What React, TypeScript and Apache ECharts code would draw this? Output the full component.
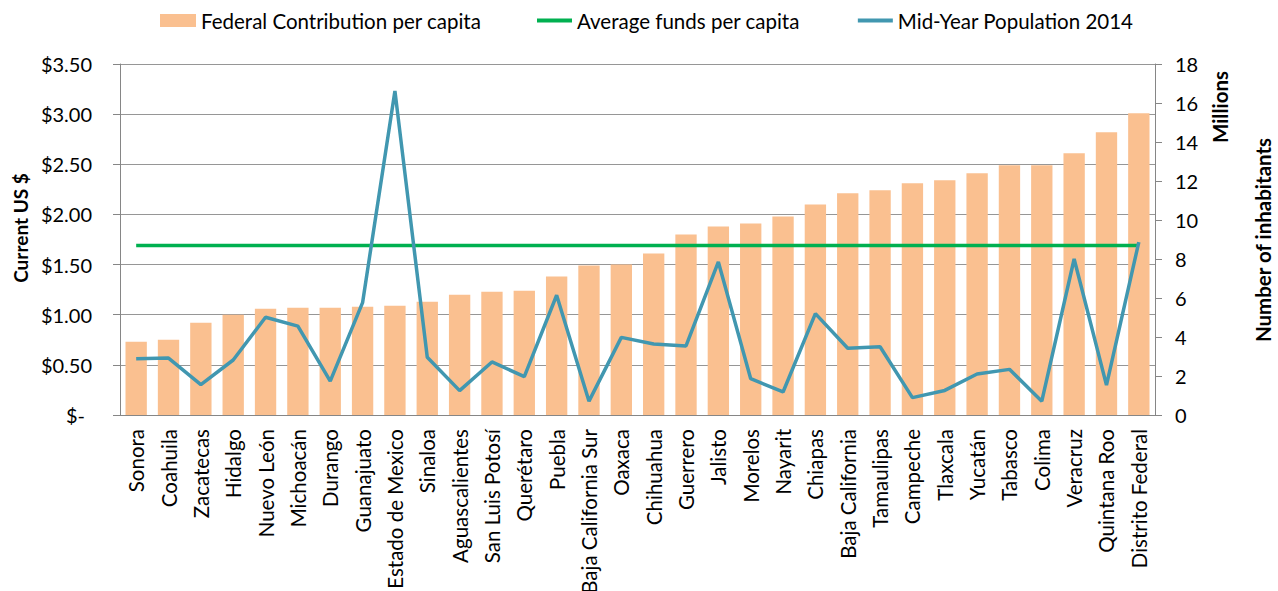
import React, { useEffect, useRef } from "react";
import * as echarts from "echarts";

const categories = [
  "Sonora", "Coahuila", "Zacatecas", "Hidalgo", "Nuevo León", "Michoacán", "Durango",
  "Guanajuato", "Estado de Mexico", "Sinaloa", "Aguascalientes", "San Luis Potosí",
  "Querétaro", "Puebla", "Baja California Sur", "Oaxaca", "Chihuahua", "Guerrero",
  "Jalisto", "Morelos", "Nayarit", "Chiapas", "Baja California", "Tamaulipas",
  "Campeche", "Tlaxcala", "Yucatán", "Tabasco", "Colima", "Veracruz", "Quintana Roo",
  "Distrito Federal",
];

const federalContribution = [
  0.73, 0.75, 0.92, 1.0, 1.06, 1.07, 1.07, 1.08, 1.09, 1.13, 1.2, 1.23, 1.24, 1.38,
  1.49, 1.5, 1.61, 1.8, 1.88, 1.91, 1.98, 2.1, 2.21, 2.24, 2.31, 2.34, 2.41, 2.49,
  2.49, 2.61, 2.82, 3.01,
];

const averageFunds = [
  1.69, 1.69, 1.69, 1.69, 1.69, 1.69, 1.69, 1.69, 1.69, 1.69, 1.69, 1.69, 1.69, 1.69,
  1.69, 1.69, 1.69, 1.69, 1.69, 1.69, 1.69, 1.69, 1.69, 1.69, 1.69, 1.69, 1.69, 1.69,
  1.69, 1.69, 1.69, 1.69,
];

const population2014 = [
  2.89, 2.92, 1.56, 2.82, 5.01, 4.56, 1.74, 5.76, 16.62, 2.96, 1.25, 2.72, 1.97, 6.14,
  0.71, 3.98, 3.64, 3.54, 7.85, 1.86, 1.18, 5.2, 3.42, 3.5, 0.89, 1.26, 2.1, 2.34,
  0.71, 8.0, 1.53, 8.87,
];

const FONT = "Lato, 'Open Sans', sans-serif";

export default function App() {
  const ref = useRef<HTMLDivElement>(null);

  useEffect(() => {
    document.body.style.margin = "0";
    const chart = echarts.init(ref.current!, undefined, { renderer: "svg" });
    const legendText = { fontFamily: FONT, fontSize: 20.5, color: "#000" };
    chart.setOption({
      animation: false,
      textStyle: { fontFamily: FONT },
      legend: [
        {
          top: 10,
          left: 160,
          padding: 0,
          itemWidth: 36,
          itemHeight: 13,
          textStyle: legendText,
          data: [{ name: "Federal Contribution per capita", icon: "rect" }],
        },
        {
          top: 10,
          left: 537,
          padding: 0,
          itemWidth: 35,
          itemHeight: 4,
          itemGap: 58,
          textStyle: legendText,
          data: [
            { name: "Average funds per capita", icon: "rect" },
            { name: "Mid-Year Population 2014", icon: "rect" },
          ],
        },
      ],
      grid: {
        left: 120,
        right: 123,
        top: 64,
        bottom: 176,
        containLabel: false,
        outerBoundsMode: "none",
      },
      xAxis: {
        type: "category",
        data: categories,
        axisLine: { lineStyle: { color: "#868686", width: 1 } },
        axisTick: { alignWithLabel: false, length: 6, lineStyle: { color: "#868686" } },
        axisLabel: {
          rotate: 90,
          interval: 0,
          margin: 14,
          fontFamily: FONT,
          fontSize: 20.5,
          color: "#000",
        },
      },
      yAxis: [
        {
          type: "value",
          min: 0,
          max: 3.5,
          interval: 0.5,
          position: "left",
          axisLine: { show: true, lineStyle: { color: "#868686" } },
          axisTick: { show: true, length: 7, lineStyle: { color: "#868686" } },
          splitLine: { show: true, lineStyle: { color: "#969696", width: 1 } },
          axisLabel: {
            margin: 28,
            fontFamily: FONT,
            fontSize: 20,
            color: "#000",
            formatter: (v: number) => (v === 0 ? "{z|$-}" : "$" + v.toFixed(2)),
            rich: { z: { fontFamily: FONT, fontSize: 20, color: "#000", padding: [0, 7, 0, 0] } },
          },
        },
        {
          type: "value",
          min: 0,
          max: 18,
          interval: 2,
          position: "right",
          axisLine: { show: true, lineStyle: { color: "#868686" } },
          axisTick: { show: true, length: 7, lineStyle: { color: "#868686" } },
          splitLine: { show: false },
          axisLabel: { margin: 20, fontFamily: FONT, fontSize: 20, color: "#000" },
        },
      ],
      graphic: [
        {
          type: "text",
          x: 20,
          y: 228,
          rotation: Math.PI / 2,
          style: {
            text: "Current US $",
            fontFamily: FONT,
            fontSize: 19,
            fontWeight: "bold",
            fill: "#000",
            align: "center",
            verticalAlign: "middle",
          },
        },
        {
          type: "text",
          x: 1220,
          y: 107,
          rotation: Math.PI / 2,
          style: {
            text: "Millions",
            fontFamily: FONT,
            fontSize: 20.5,
            fontWeight: "bold",
            fill: "#000",
            align: "center",
            verticalAlign: "middle",
          },
        },
        {
          type: "text",
          x: 1263,
          y: 240,
          rotation: Math.PI / 2,
          style: {
            text: "Number of inhabitants",
            fontFamily: FONT,
            fontSize: 20.5,
            fontWeight: "bold",
            fill: "#000",
            align: "center",
            verticalAlign: "middle",
          },
        },
      ],
      series: [
        {
          name: "Federal Contribution per capita",
          type: "bar",
          yAxisIndex: 0,
          data: federalContribution,
          barCategoryGap: "34%",
          itemStyle: { color: "#FAC090" },
        },
        {
          name: "Average funds per capita",
          type: "line",
          yAxisIndex: 0,
          data: averageFunds,
          symbol: "none",
          lineStyle: { color: "#00B050", width: 3.5 },
          itemStyle: { color: "#00B050" },
        },
        {
          name: "Mid-Year Population 2014",
          type: "line",
          yAxisIndex: 1,
          data: population2014,
          symbol: "none",
          lineStyle: { color: "#4197B0", width: 3.5 },
          itemStyle: { color: "#4197B0" },
        },
      ],
    });
    return () => chart.dispose();
  }, []);

  return <div ref={ref} style={{ width: 1278, height: 591 }} />;
}
